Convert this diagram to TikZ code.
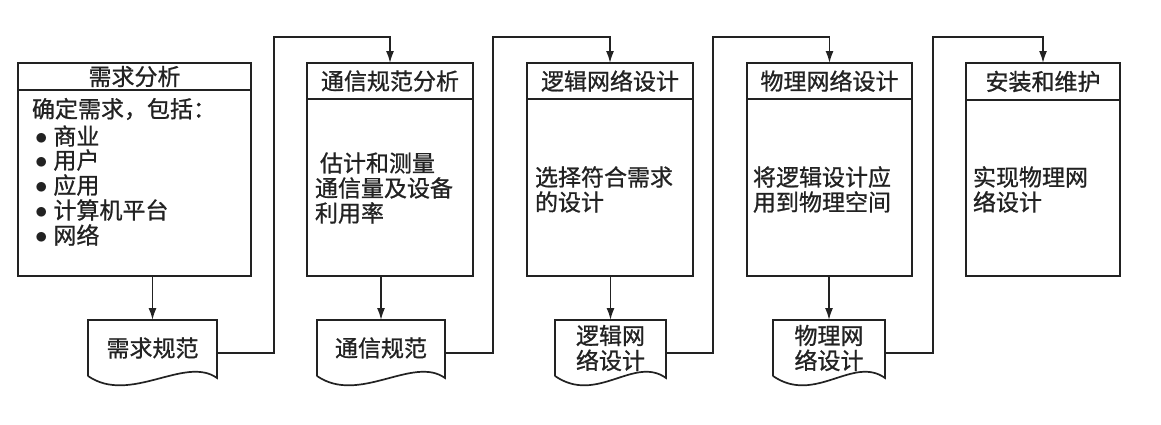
\documentclass[tikz,border=0pt]{standalone}
\usepackage{fontspec}
\newfontfamily\cjk[FakeBold=0.9]{Noto Sans CJK SC}
\usetikzlibrary{arrows.meta}
\definecolor{ink}{HTML}{222222}
\newcommand\docshape[1]{%
  \draw[line] (#1.south west) -- (#1.north west) -- (#1.north east) -- ([yshift=-2pt]#1.south east)
    .. controls +(-32,-23) and +(42,29) .. (#1.south west);}
\begin{document}
\begin{tikzpicture}[x=1pt,y=-1pt,
  line/.style={draw=ink,line width=1.7pt},
  arr/.style={line,-{Latex[length=12pt,width=8pt]}},
  txt/.style={font=\cjk\fontsize{23}{25}\selectfont,text=ink,inner sep=0pt,outer sep=0pt},
  box/.style={txt,line,rectangle,minimum width=#1,outer sep=0pt,inner sep=0pt},
  doc/.style={txt,align=center,minimum width=#1,minimum height=56pt}]
\useasboundingbox (0,0) rectangle (1161,424);
\fill[white] (0,0) rectangle (1161,424);
% process boxes
\node[box=233pt,minimum height=27pt] (h1) at (134.5,76.5) {需求分析};
\node[box=233pt,minimum height=186pt] (b1) at (134.5,183) {};
\node[box=166pt,minimum height=36pt] (h2) at (390,81) {通信规范分析};
\node[box=166pt,minimum height=177pt] (b2) at (390,187.5) {};
\node[box=166pt,minimum height=36pt] (h3) at (610,81) {逻辑网络设计};
\node[box=166pt,minimum height=177pt] (b3) at (610,187.5) {};
\node[box=165pt,minimum height=36pt] (h4) at (829.5,81) {物理网络设计};
\node[box=165pt,minimum height=177pt] (b4) at (829.5,187.5) {};
\node[box=154pt,minimum height=37pt] (h5) at (1043,81.5) {安装和维护};
\node[box=154pt,minimum height=176pt] (b5) at (1043,188) {};
% body texts
\node[txt,anchor=west] (t1) at (32,109) {确定需求，包括：};
\node[txt,anchor=west] (t1a) at (35,136) {$\bullet$\hspace{6pt}商业};
\node[txt,anchor=west] (t1b) at (35,160) {$\bullet$\hspace{6pt}用户};
\node[txt,anchor=west] (t1c) at (35,185) {$\bullet$\hspace{6pt}应用};
\node[txt,anchor=west] (t1d) at (35,210) {$\bullet$\hspace{6pt}计算机平台};
\node[txt,anchor=west] (t1e) at (35,235) {$\bullet$\hspace{6pt}网络};
\node[txt,align=left,anchor=west] (t2) at (315,188) {\hspace*{5pt}估计和测量\\通信量及设备\\利用率};
\node[txt,align=left,anchor=west] (t3) at (535,189.5) {选择符合需求\\的设计};
\node[txt,align=left,anchor=west] (t4) at (753,189.5) {将逻辑设计应\\用到物理空间};
\node[txt,align=left,anchor=west] (t5) at (973,189.5) {实现物理网\\络设计};
% documents
\node[doc=129pt] (d1) at (152.5,348) {需求规范};
\node[doc=128pt] (d2) at (381,348) {通信规范};
\node[doc=111pt] (d3) at (610.5,348) {逻辑网\\络设计};
\node[doc=112pt] (d4) at (829,348) {物理网\\络设计};
\docshape{d1}
\docshape{d2}
\docshape{d3}
\docshape{d4}
% box -> document
\draw[arr] (b1.south -| d1.north) -- (d1.north);
\draw[arr] (b2.south -| d2.north) -- (d2.north);
\draw[arr] (b3.south -| d3.north) -- (d3.north);
\draw[arr] (b4.south -| d4.north) -- (d4.north);
% document -> next box
\coordinate (c1) at (274,37);
\coordinate (c2) at (493,37);
\coordinate (c3) at (713,37);
\coordinate (c4) at (933,37);
\draw[arr] ([yshift=-5pt]d1.east) -| (c1) -| (h2.north);
\draw[arr] ([yshift=-5pt]d2.east) -| (c2) -| (h3.north);
\draw[arr] ([yshift=-5pt]d3.east) -| (c3) -| (h4.north);
\draw[arr] ([yshift=-5pt]d4.east) -| (c4) -| (h5.north);
\end{tikzpicture}
\end{document}
